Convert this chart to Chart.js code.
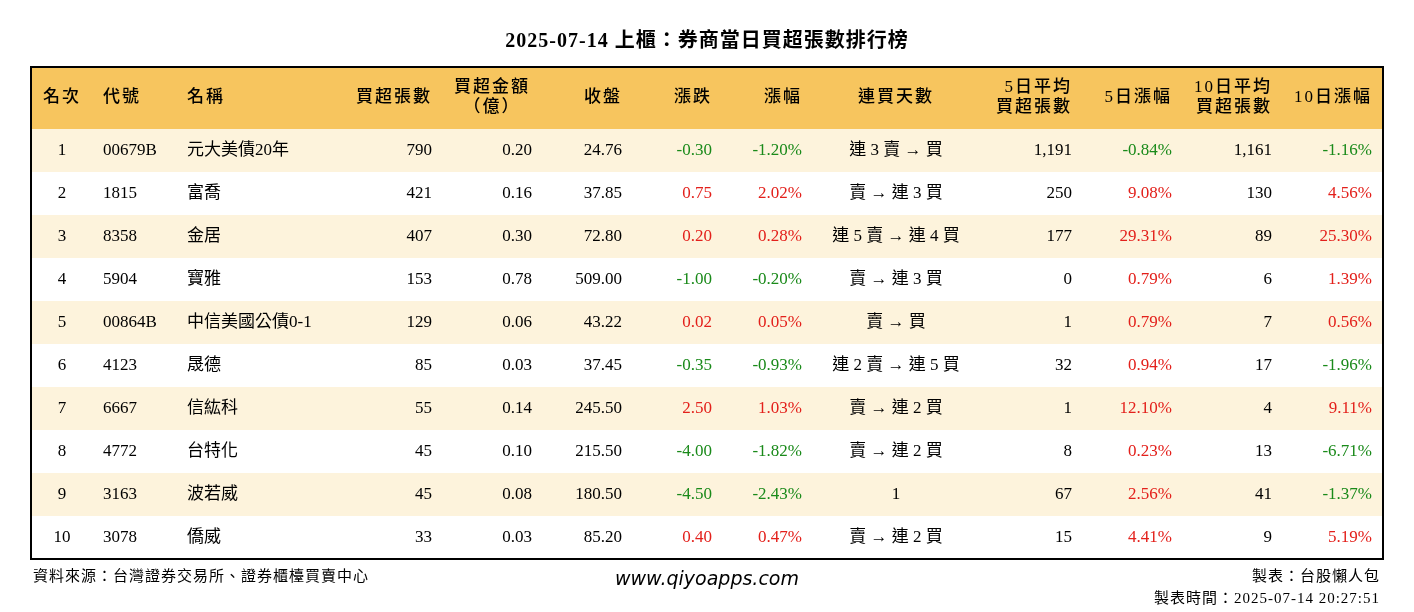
<!DOCTYPE html>
<html><head><meta charset="utf-8">
<script src="https://cdn.jsdelivr.net/npm/chart.js@4"></script>
<style>body{margin:0;background:#fff}</style>
</head><body>
<canvas id="tbl" width="1414" height="612"></canvas>
<script>
const ranks = [1,2,3,4,5,6,7,8,9,10];
const codes = ['00679B','1815','8358','5904','00864B','4123','6667','4772','3163','3078'];
const names = ['元大美債20年','富喬','金居','寶雅','中信美國公債0-1','晟德','信紘科','台特化','波若威','僑威'];
const netBuy = ['790','421','407','153','129','85','55','45','45','33'];
const amount = ['0.20','0.16','0.30','0.78','0.06','0.03','0.14','0.10','0.08','0.03'];
const closePx = ['24.76','37.85','72.80','509.00','43.22','37.45','245.50','215.50','180.50','85.20'];
const change = ['-0.30','0.75','0.20','-1.00','0.02','-0.35','2.50','-4.00','-4.50','0.40'];
const changePct = ['-1.20%','2.02%','0.28%','-0.20%','0.05%','-0.93%','1.03%','-1.82%','-2.43%','0.47%'];
const streak = ['連 3 賣 → 買','賣 → 連 3 買','連 5 賣 → 連 4 買','賣 → 連 3 買','賣 → 買','連 2 賣 → 連 5 買','賣 → 連 2 買','賣 → 連 2 買','1','賣 → 連 2 買'];
const avg5 = ['1,191','250','177','0','1','32','1','8','67','15'];
const pct5 = ['-0.84%','9.08%','29.31%','0.79%','0.79%','0.94%','12.10%','0.23%','2.56%','4.41%'];
const avg10 = ['1,161','130','89','6','7','17','4','13','41','9'];
const pct10 = ['-1.16%','4.56%','25.30%','1.39%','0.56%','-1.96%','9.11%','-6.71%','-1.37%','5.19%'];

// layout: [header lines, x, align, data, signed, header centre]
const columns = [
  [['名次'], 62, 'center', ranks, false],
  [['代號'], 103, 'left', codes, false],
  [['名稱'], 187, 'left', names, false],
  [['買超張數'], 432, 'right', netBuy, false],
  [['買超金額','（億）'], 532, 'right', amount, false, 492],
  [['收盤'], 622, 'right', closePx, false],
  [['漲跌'], 712, 'right', change, true],
  [['漲幅'], 802, 'right', changePct, true],
  [['連買天數'], 896, 'center', streak, false],
  [['5日平均','買超張數'], 1072, 'right', avg5, false],
  [['5日漲幅'], 1172, 'right', pct5, true],
  [['10日平均','買超張數'], 1272, 'right', avg10, false],
  [['10日漲幅'], 1372, 'right', pct10, true]
];

const FONT = '"Liberation Serif","Noto Sans CJK TC",serif';
const tablePlugin = {
  id: 'tablePlugin',
  afterDraw(chart) {
    const { ctx, scales: { x, y } } = chart;
    const L = x.getPixelForValue(31), R = x.getPixelForValue(1383);
    const top = y.getPixelForValue(67), hdrB = y.getPixelForValue(129);
    const rowH = y.getPixelForValue(172) - y.getPixelForValue(129);
    ctx.save();
    ctx.textBaseline = 'middle';
    ctx.fillStyle = '#000';
    ctx.font = 'bold 20px ' + FONT;
    ctx.textAlign = 'center';
    ctx.letterSpacing = '1px';
    ctx.fillText('2025-07-14 上櫃：券商當日買超張數排行榜', x.getPixelForValue(707), y.getPixelForValue(42));
    // header + row bands
    ctx.fillStyle = '#f7c55e';
    ctx.fillRect(L, top, R - L, hdrB - top);
    ranks.forEach((r, i) => {
      ctx.fillStyle = i % 2 === 0 ? '#fdf3dc' : '#ffffff';
      ctx.fillRect(L, hdrB + i * rowH, R - L, rowH);
    });
    ctx.font = '500 17px ' + FONT;
    ctx.letterSpacing = '2px';
    columns.forEach(c => {
      const hx = x.getPixelForValue(c[5] !== undefined ? c[5] : c[1]);
      ctx.textAlign = c[5] !== undefined ? 'center' : c[2];
      ctx.fillStyle = '#000';
      const mid = (top + hdrB) / 2;
      if (c[0].length === 1) ctx.fillText(c[0][0], hx, mid);
      else { ctx.fillText(c[0][0], hx, mid - 10); ctx.fillText(c[0][1], hx, mid + 10); }
    });
    ctx.font = '17px ' + FONT;
    ctx.letterSpacing = '0px';
    columns.forEach(c => {
      ctx.textAlign = c[2];
      c[3].forEach((v, i) => {
        const s = String(v);
        ctx.fillStyle = c[4] ? (s.startsWith('-') ? '#1a8a1a' : '#e3201b') : '#000';
        ctx.fillText(s, x.getPixelForValue(c[1]), hdrB + (i + 0.5) * rowH);
      });
    });
    ctx.strokeStyle = '#000';
    ctx.lineWidth = 2;
    ctx.strokeRect(L, top, R - L, hdrB + ranks.length * rowH - top);
    // footer
    ctx.fillStyle = '#000';
    ctx.font = '15px ' + FONT;
    ctx.letterSpacing = '1px';
    ctx.textAlign = 'left';
    ctx.fillText('資料來源：台灣證券交易所、證券櫃檯買賣中心', x.getPixelForValue(33), y.getPixelForValue(577));
    ctx.textAlign = 'right';
    ctx.fillText('製表：台股懶人包', x.getPixelForValue(1380), y.getPixelForValue(577));
    ctx.fillText('製表時間：2025-07-14 20:27:51', x.getPixelForValue(1380), y.getPixelForValue(599));
    ctx.letterSpacing = '0px';
    ctx.textAlign = 'center';
    ctx.font = 'italic 19px "DejaVu Sans",sans-serif';
    ctx.fillText('www.qiyoapps.com', x.getPixelForValue(707), y.getPixelForValue(580));
    ctx.restore();
  }
};

new Chart(document.getElementById('tbl'), {
  type: 'scatter',
  data: { datasets: [{ data: [] }] },
  options: {
    responsive: false,
    animation: false,
    layout: { padding: 0 },
    plugins: { legend: { display: false }, tooltip: { enabled: false } },
    scales: {
      x: { type: 'linear', min: 0, max: 1414, display: false },
      y: { type: 'linear', min: 0, max: 612, reverse: true, display: false }
    }
  },
  plugins: [tablePlugin]
});
</script>
</body></html>
